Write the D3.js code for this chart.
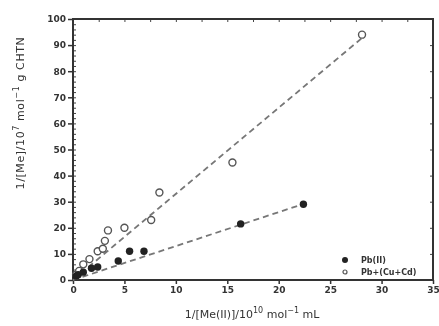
<!DOCTYPE html>
<html>
<head>
<meta charset="utf-8">
<script src="https://cdn.jsdelivr.net/npm/d3@7"></script>
<style>
  body { margin: 0; background: #fff; }
  svg { display: block; filter: blur(0.5px); }
  text { font-family: "DejaVu Sans", sans-serif; fill: #333; }
</style>
</head>
<body>
<div id="chart"></div>
<script>
// Pb(II) alone (filled)
var pbX = [0.3, 0.5, 1.0, 1.8, 2.4, 4.4, 5.5, 6.9, 16.3, 22.4];
var pbY = [1.5, 2.0, 3.0, 4.5, 5.0, 7.3, 11.0, 11.0, 21.5, 29.0];
// Pb + (Cu+Cd) (open)
var mixX = [0.3, 0.6, 1.0, 1.6, 2.4, 2.9, 3.1, 3.4, 5.0, 7.6, 8.4, 15.5, 28.1];
var mixY = [2.0, 3.5, 6.0, 8.0, 11.0, 12.0, 15.0, 19.0, 20.0, 23.0, 33.5, 45.0, 94.0];
var pbSlope = 1.3, mixSlope = 3.3;
var xTicks = [0, 5, 10, 15, 20, 25, 30, 35];
var yTicks = [0, 10, 20, 30, 40, 50, 60, 70, 80, 90, 100];
var legendLabels = ["Pb(II)", "Pb+(Cu+Cd)"];

var width = 439, height = 326;
var margin = {left: 73, right: 5, top: 19, bottom: 46};

var svg = d3.select("#chart").append("svg")
    .attr("width", width)
    .attr("height", height);

var x = d3.scaleLinear().domain([0, 35]).range([margin.left, width - margin.right - 1]);
var y = d3.scaleLinear().domain([0, 100]).range([height - margin.bottom, margin.top]);

// minor ticks, left axis (inward)
svg.append("g")
    .attr("transform", "translate(" + x(0) + ",0)")
    .call(d3.axisRight(y).tickValues(d3.range(0, 101, 2)).tickSize(3).tickFormat(""))
    .call(g => g.select(".domain").remove())
    .selectAll("line").attr("stroke", "#444");

// left axis
svg.append("g")
    .attr("transform", "translate(" + x(0) + ",0)")
    .call(d3.axisLeft(y).tickValues(yTicks).tickSize(5).tickPadding(2))
    .call(g => g.select(".domain").remove())
    .call(g => g.selectAll("line").attr("stroke", "#333").attr("stroke-width", 1.5))
    .call(g => g.selectAll("text").style("font-size", "9px").style("font-weight", "bold"));

// bottom axis
svg.append("g")
    .attr("transform", "translate(0," + y(0) + ")")
    .call(d3.axisBottom(x).tickValues(xTicks).tickSize(4).tickPadding(3))
    .call(g => g.select(".domain").remove())
    .call(g => g.selectAll("line").attr("stroke", "#333").attr("stroke-width", 1.5))
    .call(g => g.selectAll("text").style("font-size", "9px").style("font-weight", "bold"));

// top axis (inward)
svg.append("g")
    .attr("transform", "translate(0," + y(100) + ")")
    .call(d3.axisBottom(x).tickValues(d3.range(0, 35.1, 2.5)).tickSize(3).tickFormat(""))
    .call(g => g.select(".domain").remove())
    .selectAll("line").attr("stroke", "#444");

// right axis (inward)
svg.append("g")
    .attr("transform", "translate(" + x(35) + ",0)")
    .call(d3.axisLeft(y).tickValues(yTicks).tickSize(3).tickFormat(""))
    .call(g => g.select(".domain").remove())
    .selectAll("line").attr("stroke", "#444");

// frame
svg.append("rect")
    .attr("x", x(0)).attr("y", y(100))
    .attr("width", x(35) - x(0)).attr("height", y(0) - y(100))
    .attr("fill", "none").attr("stroke", "#333").attr("stroke-width", 2);

// dashed fit lines
var fits = [
  {slope: mixSlope, xmax: 28.1},
  {slope: pbSlope, xmax: 22.4}
];
svg.selectAll(".fit")
    .data(fits)
    .enter().append("line")
    .attr("class", "fit")
    .attr("x1", x(0)).attr("y1", y(0))
    .attr("x2", d => x(d.xmax)).attr("y2", d => y(d.slope * d.xmax))
    .attr("stroke", "#777")
    .attr("stroke-width", 1.8)
    .attr("stroke-dasharray", "6,4");

// open circles
svg.selectAll(".mix")
    .data(mixX.map((v, i) => [v, mixY[i]]))
    .enter().append("circle")
    .attr("class", "mix")
    .attr("cx", d => x(d[0])).attr("cy", d => y(d[1]))
    .attr("r", 3.5)
    .attr("fill", "#fff")
    .attr("stroke", "#555")
    .attr("stroke-width", 1.4);

// filled circles
svg.selectAll(".pb")
    .data(pbX.map((v, i) => [v, pbY[i]]))
    .enter().append("circle")
    .attr("class", "pb")
    .attr("cx", d => x(d[0])).attr("cy", d => y(d[1]))
    .attr("r", 3.7)
    .attr("fill", "#222");

// legend
var leg = svg.append("g").attr("transform", "translate(345,260)");
leg.append("circle").attr("cx", 0).attr("cy", 0).attr("r", 3).attr("fill", "#222");
leg.append("circle").attr("cx", 0).attr("cy", 12).attr("r", 2)
    .attr("fill", "#fff").attr("stroke", "#555").attr("stroke-width", 1.2);
leg.selectAll("text")
    .data(legendLabels)
    .enter().append("text")
    .attr("x", 16).attr("y", (d, i) => i * 12 + 3)
    .style("font-size", "8px")
    .style("font-weight", "bold")
    .text(d => d);

// axis titles
var xt = svg.append("text")
    .attr("x", 252).attr("y", 318)
    .attr("text-anchor", "middle")
    .style("font-size", "11px");
xt.append("tspan").text("1/[Me(II)]/10");
xt.append("tspan").attr("dy", -5).style("font-size", "8px").text("10");
xt.append("tspan").attr("dy", 5).text(" mol");
xt.append("tspan").attr("dy", -5).style("font-size", "8px").text("\u22121");
xt.append("tspan").attr("dy", 5).text(" mL");

var yt = svg.append("text")
    .attr("transform", "translate(24,113) rotate(-90)")
    .attr("text-anchor", "middle")
    .style("font-size", "11px")
    .style("letter-spacing", "0.6px");
yt.append("tspan").text("1/[Me]/10");
yt.append("tspan").attr("dy", -5).style("font-size", "8px").text("7");
yt.append("tspan").attr("dy", 5).text(" mol");
yt.append("tspan").attr("dy", -5).style("font-size", "8px").text("\u22121");
yt.append("tspan").attr("dy", 5).text(" g CHTN");
</script>
</body>
</html>
